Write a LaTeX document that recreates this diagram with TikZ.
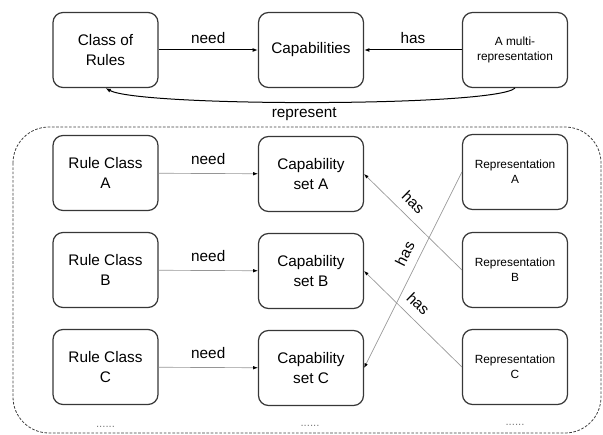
\documentclass[tikz,border=0pt]{standalone}
\usepackage{fontspec}
\setmainfont{Liberation Sans}
\usetikzlibrary{arrows.meta}
\definecolor{BoxLine}{RGB}{55,55,55}
\definecolor{LinkGray}{RGB}{150,150,150}
\definecolor{DotGray}{RGB}{125,125,125}
\tikzset{
  box/.style={draw=BoxLine,line width=0.9pt,rounded corners=7.5pt,minimum width=78.75pt,
    minimum height=56.25pt,align=center,inner sep=2pt,font=\fontsize{11.5}{14.5}\selectfont},
  smallbox/.style={box,font=\fontsize{8.9}{11}\selectfont},
  link/.style={draw=black,line width=0.75pt,-{Latex[length=4pt,width=3pt]}},
  thinlink/.style={draw=LinkGray,line width=0.5pt,-{Latex[length=3.5pt,width=2.6pt,color=black]}},
  lbl/.style={font=\fontsize{11.5}{13}\selectfont,inner sep=1.5pt},
}
\tikzset{frame/.style={draw=black!75,line width=0.6pt,dash pattern=on 2pt off 1.2pt,rounded corners=27pt},
  dots/.style={text=DotGray,font=\fontsize{8.5}{10}\selectfont,inner sep=0pt}}

\begin{document}
\begin{tikzpicture}[x=0.75pt,y=-0.75pt]
\useasboundingbox (0,0) rectangle (603,435);
\node[box] (rules) at (105.5,50) {Class of\\Rules};
\node[box] (caps) at (311,50) {Capabilities};
\node[smallbox] (multi) at (515,50) {A multi-\\representation};
\draw[link] (rules) -- node[lbl,above=3pt]{need} (caps);
\draw[link] (multi) -- node[lbl,above=3pt]{has} (caps);
\draw[link] (multi.south) .. controls (495,107) and (140,107) .. node[lbl,below=2pt,pos=0.52]{represent} (rules.south);
\draw[frame] (13,127) rectangle (601,433);
\node[box] (ruleA) at (105.5,173) {Rule Class\\A};
\node[box] (ruleB) at (105.5,270) {Rule Class\\B};
\node[box] (ruleC) at (105.5,367) {Rule Class\\C};
\node[box] (capA) at (311,174) {Capability\\set A};
\node[box] (capB) at (311,271) {Capability\\set B};
\node[box] (capC) at (311,368) {Capability\\set C};
\node[smallbox] (repA) at (515,172) {Representation\\A};
\node[smallbox] (repB) at (515,270) {Representation\\B};
\node[smallbox] (repC) at (515,367) {Representation\\C};
\draw[thinlink] (ruleA) -- node[lbl,above=5pt]{need} (capA);
\draw[thinlink] (ruleB) -- node[lbl,above=5pt]{need} (capB);
\draw[thinlink] (ruleC) -- node[lbl,above=5pt]{need} (capC);
\draw[thinlink] (repB.west) -- node[lbl,sloped,above=5pt,pos=0.6]{has} (capA.east);
\draw[thinlink] (repC.west) -- node[lbl,sloped,above=5pt,pos=0.55]{has} (capB.east);
\draw[thinlink] (repA.west) -- node[lbl,sloped,above=5pt,pos=0.45]{has} (capC.east);
\node[dots] (dotsL) at (105.5,427) {......};
\node[dots] (dotsM) at (310,426) {......};
\node[dots] (dotsR) at (515,425) {......};
\end{tikzpicture}
\end{document}
